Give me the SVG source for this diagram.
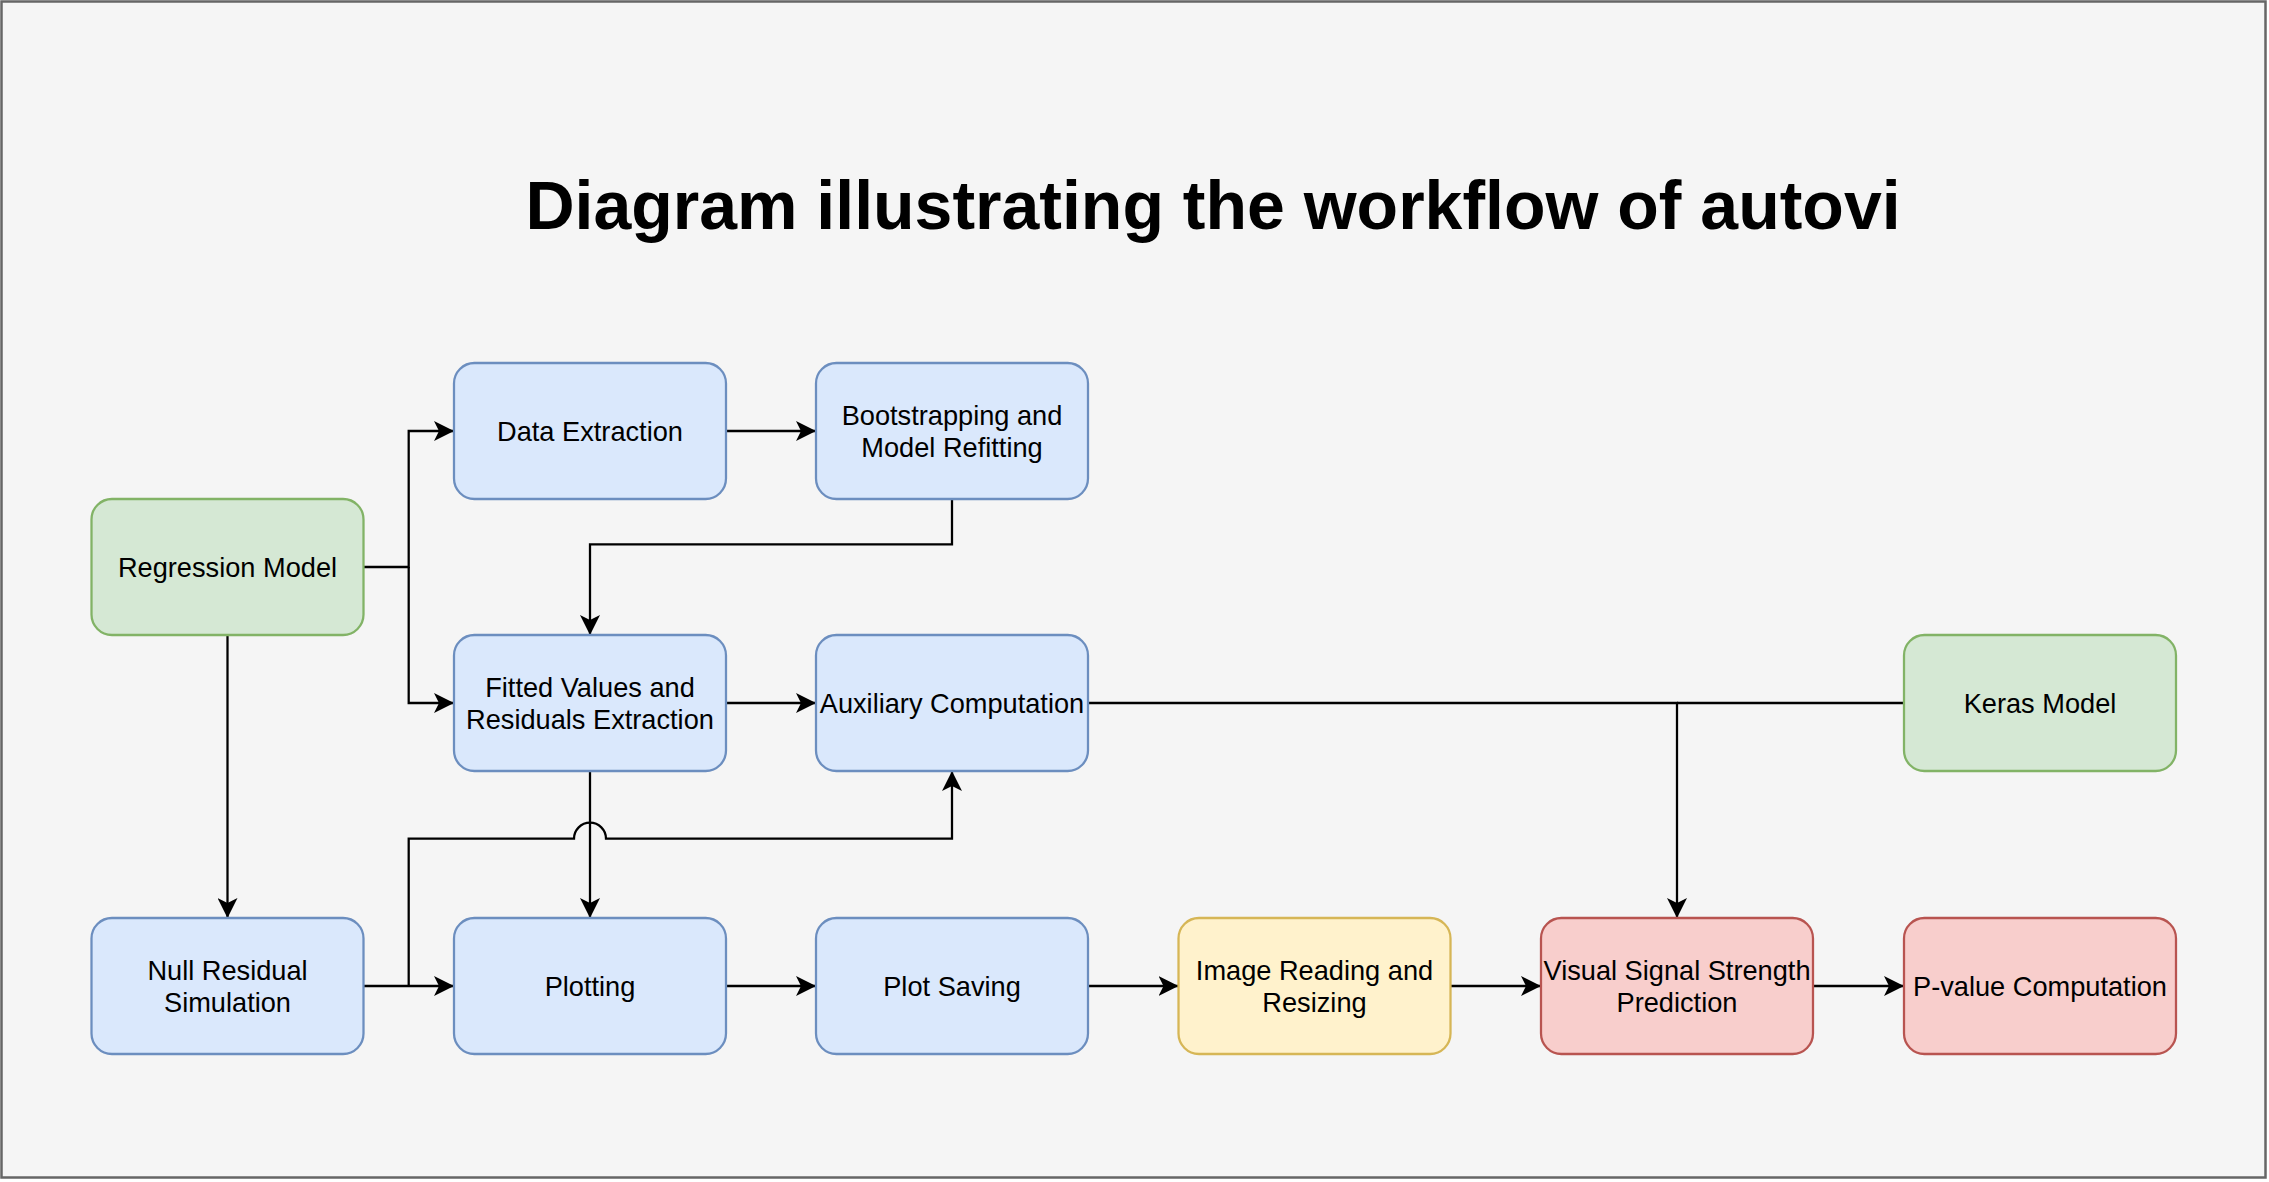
<svg xmlns="http://www.w3.org/2000/svg" width="2269" height="1182" viewBox="0 0 2269 1182">
<style>
.node rect{stroke-width:2.27}
.blue rect{fill:#dae8fc;stroke:#6c8ebf}
.green rect{fill:#d5e8d4;stroke:#82b366}
.yellow rect{fill:#fff2cc;stroke:#d6b656}
.red rect{fill:#f8cecc;stroke:#b85450}
.node text{font-family:"Liberation Sans",Helvetica,Arial,sans-serif;font-size:27.2px;fill:#000;text-anchor:middle}
.title{font-family:"Liberation Sans",Helvetica,Arial,sans-serif;font-size:68px;font-weight:bold;fill:#000;text-anchor:middle}
#connectors path{fill:none;stroke:#000;stroke-width:2.27}
.arr{marker-end:url(#arrow)}
</style>
<defs>
<marker id="arrow" markerUnits="userSpaceOnUse" markerWidth="20" markerHeight="20" refX="20" refY="10" orient="auto">
<path d="M0,0 L20,10 L0,20 L5,10 z" fill="#000"/>
</marker>
</defs>
<rect x="1.5" y="1.5" width="2264" height="1176" fill="#f5f5f5" stroke="#666666" stroke-width="2.5"/>
<text class="title" x="1213" y="229">Diagram illustrating the workflow of autovi</text>

<g id="connectors">
<path d="M364,567 H408.7 V431 H454" class="arr"/>
<path d="M408.7,567 V703 H454" class="arr"/>
<path d="M726,431 H816" class="arr"/>
<path d="M952,499 V544.3 H590 V635" class="arr"/>
<path d="M726,703 H816" class="arr"/>
<path d="M227.5,635 V918" class="arr"/>
<path d="M363.5,986 H454" class="arr"/>
<path d="M408.7,986 V838.7 H574 A16,16 0 0 1 606,838.7 H952 V771" class="arr"/>
<path d="M590,771 V918" class="arr"/>
<path d="M726,986 H816" class="arr"/>
<path d="M1088,986 H1178.5" class="arr"/>
<path d="M1450.5,986 H1541" class="arr"/>
<path d="M1813,986 H1904" class="arr"/>
<path d="M1088,703 H1677 V918" class="arr"/>
<path d="M1904,703 H1677"/>
</g>

<g id="regression-model" class="node green">
<rect x="91.5" y="499" width="272" height="136" rx="20.4"/>
<text x="227.5" y="577">Regression Model</text>
</g>
<g id="data-extraction" class="node blue">
<rect x="454" y="363" width="272" height="136" rx="20.4"/>
<text x="590" y="441">Data Extraction</text>
</g>
<g id="bootstrapping" class="node blue">
<rect x="816" y="363" width="272" height="136" rx="20.4"/>
<text x="952" y="425">Bootstrapping and</text>
<text x="952" y="457">Model Refitting</text>
</g>
<g id="fitted-values" class="node blue">
<rect x="454" y="635" width="272" height="136" rx="20.4"/>
<text x="590" y="697">Fitted Values and</text>
<text x="590" y="729">Residuals Extraction</text>
</g>
<g id="auxiliary-computation" class="node blue">
<rect x="816" y="635" width="272" height="136" rx="20.4"/>
<text x="952" y="713">Auxiliary Computation</text>
</g>
<g id="keras-model" class="node green">
<rect x="1904" y="635" width="272" height="136" rx="20.4"/>
<text x="2040" y="713">Keras Model</text>
</g>
<g id="null-residual" class="node blue">
<rect x="91.5" y="918" width="272" height="136" rx="20.4"/>
<text x="227.5" y="980">Null Residual</text>
<text x="227.5" y="1012">Simulation</text>
</g>
<g id="plotting" class="node blue">
<rect x="454" y="918" width="272" height="136" rx="20.4"/>
<text x="590" y="996">Plotting</text>
</g>
<g id="plot-saving" class="node blue">
<rect x="816" y="918" width="272" height="136" rx="20.4"/>
<text x="952" y="996">Plot Saving</text>
</g>
<g id="image-reading" class="node yellow">
<rect x="1178.5" y="918" width="272" height="136" rx="20.4"/>
<text x="1314.5" y="980">Image Reading and</text>
<text x="1314.5" y="1012">Resizing</text>
</g>
<g id="visual-signal" class="node red">
<rect x="1541" y="918" width="272" height="136" rx="20.4"/>
<text x="1677" y="980">Visual Signal Strength</text>
<text x="1677" y="1012">Prediction</text>
</g>
<g id="p-value" class="node red">
<rect x="1904" y="918" width="272" height="136" rx="20.4"/>
<text x="2040" y="996">P-value Computation</text>
</g>
</svg>
